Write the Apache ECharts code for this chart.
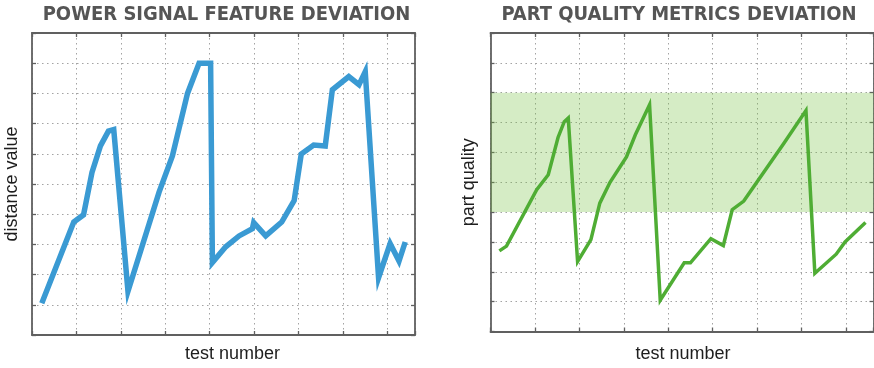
<!DOCTYPE html>
<html>
<head>
<meta charset="utf-8">
<script src="https://cdn.jsdelivr.net/npm/echarts@6/dist/echarts.min.js"></script>
<style>
html,body{margin:0;padding:0;background:#fff;}
#chart{width:874px;height:368px;}
</style>
</head>
<body>
<div id="chart"></div>
<script>
// ---- data ----
const titles = ['POWER SIGNAL FEATURE DEVIATION', 'PART QUALITY METRICS DEVIATION'];
const yNames = ['distance value', 'part quality'];
const xName = 'test number';

const powerX = [1.1, 4.7, 5.8, 6.75, 7.7, 8.6, 9.2, 10.8, 14.3, 15.8, 17.5, 18.8, 20.1, 20.3, 21.8, 23.3, 24.8, 24.95, 26.3, 28.1, 29.5, 30.3, 31.7, 33.0, 33.8, 35.65, 36.8, 37.5, 39.0, 40.3, 41.3, 42.0];
const powerY = [1.05, 3.74, 3.98, 5.38, 6.26, 6.75, 6.8, 1.45, 4.73, 5.93, 8.0, 9.0, 9.0, 2.4, 2.92, 3.28, 3.52, 3.72, 3.28, 3.74, 4.45, 5.99, 6.29, 6.26, 8.12, 8.56, 8.29, 8.72, 1.9, 3.03, 2.45, 3.08];

const qualityX = [1.0, 1.8, 5.2, 6.5, 7.6, 8.3, 8.75, 9.8, 11.3, 12.3, 13.45, 15.3, 16.3, 17.9, 19.1, 21.8, 22.5, 24.8, 26.2, 27.2, 28.5, 33.0, 35.5, 36.5, 38.9, 39.9, 42.2];
const qualityY = [2.70, 2.86, 4.75, 5.25, 6.5, 7.03, 7.15, 2.34, 3.08, 4.3, 5.0, 5.85, 6.59, 7.6, 1.05, 2.3, 2.3, 3.11, 2.88, 4.08, 4.37, 6.3, 7.4, 1.95, 2.59, 3.0, 3.65];

const qualityBand = [4, 8];
const xRange = [0, 43.1];
const yRange = [0, 10];
// --------------------------------------

const zip = (xs, ys) => xs.map((x, i) => [x, ys[i]]);

const frame = '#606060';
const grids = [
  {left: 32, top: 33, width: 383, height: 304},
  {left: 490.5, top: 33, width: 383, height: 304}
];
const tick = {show: true, inside: true, length: 4, lineStyle: {color: frame, width: 1.3}};
const split = {show: true, lineStyle: {color: '#a3a3a3', width: 1, type: [1.5, 3.5]}};
const line = {show: true, onZero: false, lineStyle: {color: frame, width: 1.8}};

function xAxes(gi, namePad, gap) {
  return [
    {
      type: 'value', gridIndex: gi, position: 'bottom',
      min: xRange[0], max: xRange[1], interval: 5,
      name: xName, nameLocation: 'middle', nameGap: gap,
      nameTextStyle: {fontFamily: 'Liberation Sans', fontSize: 18, color: '#1e1e1e', verticalAlign: 'top', padding: namePad},
      axisLine: line, axisTick: tick,
      axisLabel: {show: false},
      splitLine: split
    },
    {
      type: 'value', gridIndex: gi, position: 'top',
      min: xRange[0], max: xRange[1], interval: 5,
      axisLine: line, axisTick: tick,
      axisLabel: {show: false},
      splitLine: {show: false}
    }
  ];
}
function yAxes(gi, name, gap) {
  return [
    {
      type: 'value', gridIndex: gi, position: 'left',
      min: yRange[0], max: yRange[1], interval: 1,
      name: name, nameLocation: 'middle', nameGap: gap,
      nameTextStyle: {fontFamily: 'Liberation Sans', fontSize: 18, color: '#1e1e1e'},
      axisLine: line, axisTick: tick,
      axisLabel: {show: false},
      splitLine: split
    },
    {
      type: 'value', gridIndex: gi, position: 'right',
      min: yRange[0], max: yRange[1], interval: 1,
      axisLine: line, axisTick: tick,
      axisLabel: {show: false},
      splitLine: {show: false}
    }
  ];
}

const titleStyle = {
  fontFamily: 'DejaVu Sans Condensed', fontWeight: 'bold', fontSize: 20,
  fill: '#555555', textAlign: 'center', textVerticalAlign: 'middle'
};

const chart = echarts.init(document.getElementById('chart'), null, {renderer: 'canvas'});
chart.setOption({
  animation: false,
  backgroundColor: '#ffffff',
  graphic: [
    {type: 'text', x: 226.5, y: 14.5, style: Object.assign({text: titles[0]}, titleStyle)},
    {type: 'text', x: 679, y: 14.5, style: Object.assign({text: titles[1]}, titleStyle)}
  ],
  grid: grids,
  xAxis: xAxes(0, [0, 0, 0, 18], 10).concat(xAxes(1, [0, 0, 0, 2], 13.5)),
  yAxis: yAxes(0, yNames[0], 11).concat(yAxes(1, yNames[1], 12)),
  series: [
    {
      type: 'line', xAxisIndex: 0, yAxisIndex: 0,
      data: zip(powerX, powerY),
      showSymbol: false, symbol: 'none',
      lineStyle: {color: '#3a9ad3', width: 5.5, join: 'miter'},
      z: 5
    },
    {
      type: 'line', xAxisIndex: 2, yAxisIndex: 2,
      data: zip(qualityX, qualityY),
      showSymbol: false, symbol: 'none',
      lineStyle: {color: '#4fad34', width: 3.5, join: 'miter'},
      markArea: {
        silent: true,
        itemStyle: {color: 'rgba(115,192,62,0.3)'},
        data: [[{yAxis: qualityBand[0]}, {yAxis: qualityBand[1]}]]
      },
      z: 5
    }
  ]
});
</script>
</body>
</html>
